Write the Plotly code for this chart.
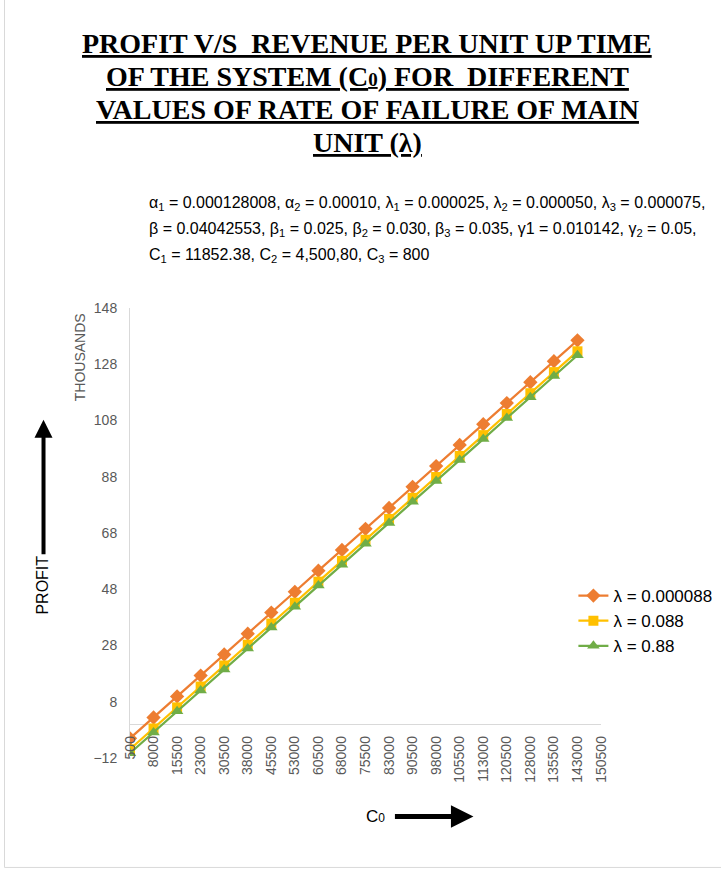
import plotly.graph_objects as go

# Revenue per unit up time C0 (category axis)
c0_labels = ["500", "8000", "15500", "23000", "30500", "38000", "45500", "53000",
             "60500", "68000", "75500", "83000", "90500", "98000", "105500",
             "113000", "120500", "128000", "135500", "143000", "150500"]

# Profit (in thousands) for each failure rate of the main unit
profit_l1 = [-5.0, 2.4, 9.9, 17.3, 24.8, 32.2, 39.7, 47.1, 54.6, 62.0,
             69.5, 76.9, 84.4, 91.8, 99.3, 106.7, 114.2, 121.6, 129.1, 136.5]
profit_l2 = [-8.9, -1.5, 6.0, 13.4, 20.9, 28.3, 35.8, 43.2, 50.7, 58.1,
             65.6, 73.0, 80.5, 87.9, 95.4, 102.8, 110.3, 117.7, 125.2, 132.6]
profit_l3 = [-10.3, -2.9, 4.6, 12.0, 19.5, 26.9, 34.4, 41.8, 49.3, 56.7,
             64.2, 71.6, 79.1, 86.5, 94.0, 101.4, 108.9, 116.3, 123.8, 131.2]

series_names = ["λ = 0.000088", "λ = 0.088", "λ = 0.88"]
series_colors = ["#ED7D31", "#FFC000", "#70AD47"]
series_symbols = ["diamond", "square", "triangle-up"]
series_sizes = [11, 10, 11]

W, H = 721, 870
PL, PR, PT, PB = 129.5, 600.6, 308.3, 757.7


def px_x(x):
    return (x - PL) / (PR - PL)


def px_y(y):
    return (PB - y) / (PB - PT)


def label(text, x, y, font, angle=0, xanchor="center"):
    return dict(text=text, x=px_x(x), y=px_y(y), xref="paper", yref="paper",
                xanchor=xanchor, yanchor="middle", textangle=angle,
                showarrow=False, font=font)


fig = go.Figure()
for name, vals, col, sym, sz in zip(series_names, [profit_l1, profit_l2, profit_l3],
                                    series_colors, series_symbols, series_sizes):
    fig.add_trace(go.Scatter(
        x=c0_labels[:len(vals)], y=vals, name=name, mode="lines+markers",
        line=dict(color=col, width=2.25),
        marker=dict(symbol=sym, size=sz, color=col),
    ))

annotations = []

# Title, one underlined line at a time
title_font = dict(family="Liberation Serif", size=28, color="black", weight="bold")
small0 = '<span style="font-size:19px">0</span>'
title_lines = [
    "PROFIT V/S  REVENUE PER UNIT UP TIME",
    "OF THE SYSTEM (C" + small0 + ") FOR  DIFFERENT",
    "VALUES OF RATE OF FAILURE OF MAIN",
    "UNIT (λ)",
]
for i, t in enumerate(title_lines):
    annotations.append(label("<u>" + t + "</u>", 367, 44 + 33 * i, title_font))

# Parameter list
param_font = dict(family="Liberation Sans", size=16, color="black")
param_lines = [
    "α<sub>1</sub> = 0.000128008, α<sub>2</sub> = 0.00010, λ<sub>1</sub> = 0.000025, "
    "λ<sub>2</sub> = 0.000050, λ<sub>3</sub> = 0.000075,",
    "β = 0.04042553, β<sub>1</sub> = 0.025, β<sub>2</sub> = 0.030, β<sub>3</sub> = 0.035, "
    "γ1 = 0.010142, γ<sub>2</sub> = 0.05,",
    "C<sub>1</sub> = 11852.38, C<sub>2</sub> = 4,500,80, C<sub>3</sub> = 800",
]
for i, t in enumerate(param_lines):
    annotations.append(label(t, 147, 204 + 26 * i, param_font, xanchor="left"))

# Display-unit label of the value axis
annotations.append(label("THOUSANDS", 79, 358,
                         dict(family="Liberation Sans", size=14, color="#595959"),
                         angle=-90))

# Axis titles with arrows
annotations.append(label("PROFIT", 42, 585,
                         dict(family="Liberation Sans", size=16, color="black"),
                         angle=-90))
annotations.append(dict(
    text="", x=px_x(43), y=px_y(420), xref="paper", yref="paper",
    showarrow=True, ax=0, ay=136, arrowhead=2, arrowsize=0.9,
    arrowwidth=4, arrowcolor="black",
))
annotations.append(label("C" + '<span style="font-size:12px">0</span>', 375, 816,
                         dict(family="Liberation Sans", size=17, color="black")))
annotations.append(dict(
    text="", x=px_x(473), y=px_y(816), xref="paper", yref="paper",
    showarrow=True, ax=-80, ay=0, arrowhead=2, arrowsize=0.9,
    arrowwidth=5, arrowcolor="black",
))

fig.update_layout(
    width=W, height=H,
    margin=dict(l=PL, r=W - PR, t=PT, b=H - PB, autoexpand=False),
    paper_bgcolor="white", plot_bgcolor="white",
    annotations=annotations,
    showlegend=True,
    legend=dict(
        x=px_x(573), y=px_y(578), xanchor="left", yanchor="top",
        font=dict(family="Liberation Sans", size=17, color="black"),
        bgcolor="rgba(0,0,0,0)", borderwidth=0, tracegroupgap=0,
    ),
    shapes=[
        dict(type="line", xref="paper", yref="paper",
             x0=px_x(4), x1=px_x(4), y0=px_y(-5), y1=px_y(867),
             line=dict(color="#d9d9d9", width=1)),
        dict(type="line", xref="paper", yref="paper",
             x0=px_x(4), x1=px_x(725), y0=px_y(867), y1=px_y(867),
             line=dict(color="#d9d9d9", width=1)),
    ],
)

fig.update_xaxes(
    type="category", categoryorder="array", categoryarray=c0_labels,
    tickvals=c0_labels, ticktext=c0_labels,
    range=[0, len(c0_labels) - 1], anchor="free", position=px_y(732),
    showgrid=False, showline=False, zeroline=False, ticks="",
    tickangle=-90, tickfont=dict(family="Liberation Sans", size=14, color="#595959"),
)
fig.update_yaxes(
    range=[-12, 148], tick0=8, dtick=20,
    showgrid=False, showline=True, linecolor="#d9d9d9", linewidth=1,
    zeroline=True, zerolinecolor="#d9d9d9", zerolinewidth=1,
    ticks="", ticklabelstandoff=9,
    tickfont=dict(family="Liberation Sans", size=14, color="#595959"),
)

fig.write_html("out.html")
